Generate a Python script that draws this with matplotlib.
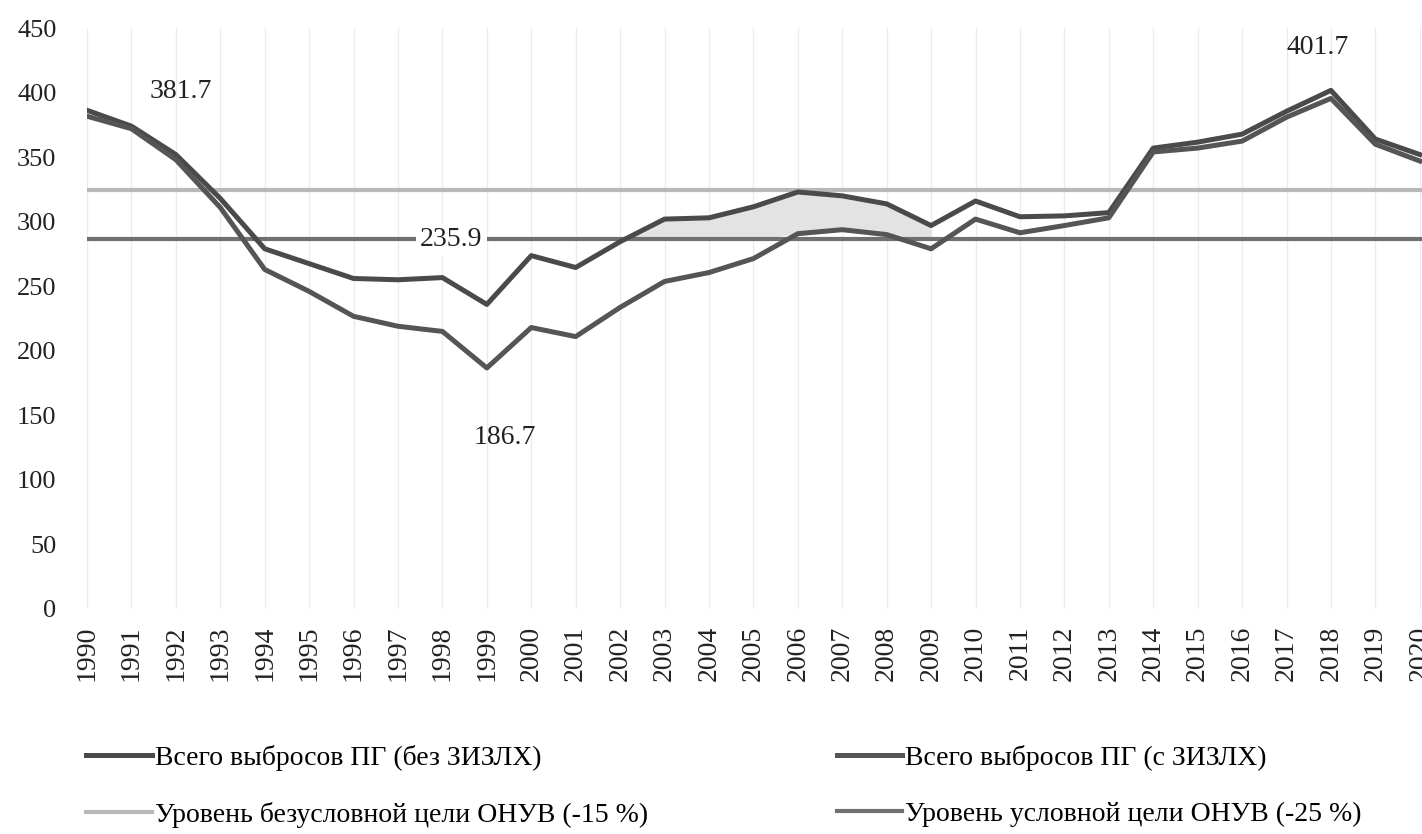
import numpy as np
import matplotlib.pyplot as plt

years = np.arange(1990, 2021)
# всего выбросов ПГ, млн т CO2-экв.
bez_zizlh = [386.3, 374.0, 352.0, 318.0, 279.0, 267.5, 256.0, 255.0, 256.7, 235.9,
             273.7, 264.5, 284.5, 302.0, 303.0, 311.5, 323.0, 320.0, 313.8, 297.0,
             316.0, 303.8, 304.5, 307.0, 357.0, 361.6, 367.8, 385.5, 401.7, 364.0,
             352.0]
s_zizlh = [381.7, 372.0, 348.0, 311.0, 263.0, 246.0, 226.7, 219.0, 215.0, 186.7,
           218.0, 211.0, 233.6, 253.7, 260.6, 271.4, 290.7, 293.8, 290.0, 279.0,
           302.0, 291.4, 297.0, 303.0, 354.0, 357.0, 362.4, 380.9, 395.5, 360.0,
           347.0]
base_1990 = 381.7
target_15 = base_1990 * 0.85
target_25 = base_1990 * 0.75

bez = np.array(bez_zizlh)
s = np.array(s_zizlh)

plt.rcParams['font.family'] = ['Liberation Serif', 'DejaVu Serif']

fig = plt.figure(figsize=(14.22, 8.34), dpi=100)
ax = fig.add_axes([87 / 1422, 0.2698, 1 - 87 / 1422, 0.9664 - 0.2698])

ax.set_xlim(1990, 2020.05)
ax.set_ylim(0, 450)

# заливка между линией и уровнем цели
lower_bound = np.maximum(s, target_25)
mask = (years >= 2002) & (years <= 2009) & (bez >= lower_bound)
ax.fill_between(years, bez, lower_bound, where=mask, interpolate=True,
                color='#e3e3e3', linewidth=0, zorder=1)

l15 = ax.axhline(target_15, color='#b8b8b8', lw=3, zorder=2,
                 label='Уровень безусловной цели ОНУВ (-15 %)')
l25 = ax.axhline(target_25, color='#707070', lw=3, zorder=2,
                 label='Уровень условной цели ОНУВ (-25 %)')
lb, = ax.plot(years, bez, color='#4a4a4a', lw=3.6, zorder=3,
              label='Всего выбросов ПГ (без ЗИЗЛХ)')
ls, = ax.plot(years, s, color='#555555', lw=3.6, zorder=3,
              label='Всего выбросов ПГ (с ЗИЗЛХ)')

ax.set_xticks(years)
ax.set_xticklabels([str(y) for y in years], rotation=90)
ax.set_yticks(np.arange(0, 451, 50))
ax.tick_params(axis='both', length=0, colors='#222222')
ax.tick_params(axis='y', pad=22, labelsize=19)
ax.tick_params(axis='x', pad=12, labelsize=20)
ax.grid(axis='x', color='#ececec', lw=1)
ax.set_axisbelow(True)
for sp in ax.spines.values():
    sp.set_visible(False)

ax.text(1992.1, 401, '381.7', fontsize=20, ha='center', va='center', color='#222222')
ax.text(1998.2, target_25, '235.9', fontsize=20, ha='center', va='center', color='#222222',
        bbox=dict(facecolor='white', edgecolor='none', pad=3), zorder=4)
ax.text(1999.4, 133, '186.7', fontsize=20, ha='center', va='center', color='#222222')
ax.text(2017.7, 435, '401.7', fontsize=20, ha='center', va='center', color='#222222')

fig.legend(handles=[lb, l15, ls, l25], loc='upper left', bbox_to_anchor=(0.053, 0.12),
           ncol=2, frameon=False, fontsize=20, handlelength=2.35, handletextpad=0.1,
           columnspacing=6.8, labelspacing=1.1, borderaxespad=0)

fig.savefig('out.png', dpi=100)
